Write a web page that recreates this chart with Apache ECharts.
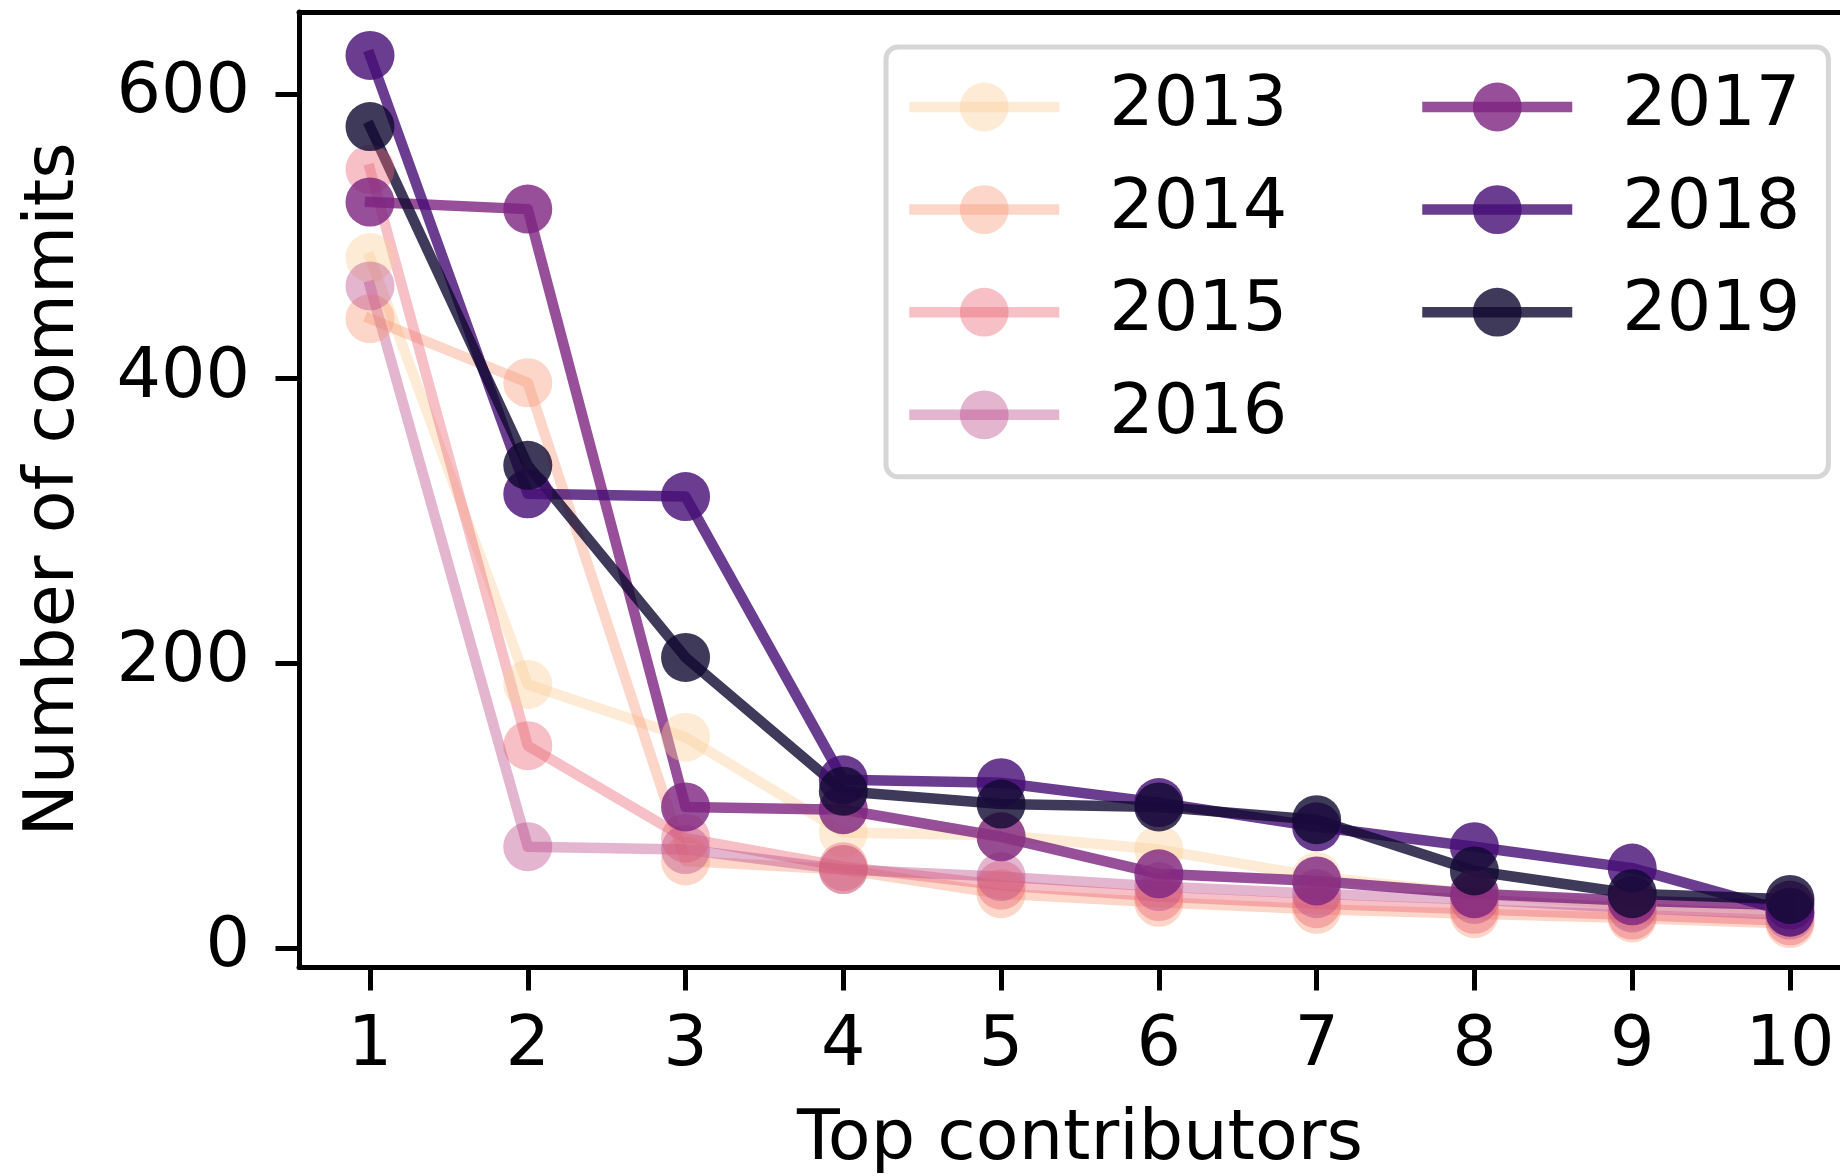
<!DOCTYPE html>
<html>
<head>
<meta charset="utf-8">
<script src="https://cdn.jsdelivr.net/npm/echarts@6/dist/echarts.min.js"></script>
<style>
  html, body { margin: 0; padding: 0; background: #fff; }
  #chart { width: 1840px; height: 1176px; }
</style>
</head>
<body>
<div id="chart"></div>
<script>
// contributor rank (x) and tick labels
const ranks = [1, 2, 3, 4, 5, 6, 7, 8, 9, 10];
const yTicks = [0, 200, 400, 600];

// commits per year
const years = ['2013', '2014', '2015', '2016', '2017', '2018', '2019'];
const c2013 = [485, 185, 148, 81, 79, 69, 50, 38, 30, 26];
const c2014 = [442, 397, 61, 55, 38, 32, 27, 24, 21, 17];
const c2015 = [547, 142, 77, 57, 44, 36, 31, 27, 23, 19];
const c2016 = [465, 71, 69, 55, 50, 43, 38, 34, 28, 23];
const c2017 = [524, 519, 99, 97, 78, 52, 47, 38, 33, 30];
const c2018 = [627, 319, 317, 118, 116, 102, 85, 71, 56, 25];
const c2019 = [577, 339, 204, 110, 101, 99, 90, 54, 38, 34];
const commits = [c2013, c2014, c2015, c2016, c2017, c2018, c2019];

// colours (magma-like) and alpha
const colors = ['#facd96', '#f89876', '#e96270', '#b94687', '#7d237f', '#450d74', '#100931'];
const alphas = [0.4, 0.4, 0.4, 0.4, 0.8, 0.8, 0.8];

const FONT = 'DejaVu Sans';
const FS = 70;

const chart = echarts.init(document.getElementById('chart'));

const series = years.map((y, i) => ({
  name: y,
  type: 'line',
  data: ranks.map((r, j) => [r, commits[i][j]]),
  symbol: 'circle',
  symbolSize: 49,
  lineStyle: { color: colors[i], width: 10.5, opacity: alphas[i], cap: 'square', join: 'round' },
  itemStyle: { color: colors[i], opacity: alphas[i] },
  emphasis: { disabled: true },
  animation: false
}));

const legendBase = {
  orient: 'vertical',
  itemWidth: 150,
  itemHeight: 61,
  itemGap: 32.6,
  selectedMode: false,
  lineStyle: { width: 10.5, cap: 'butt' },
  textStyle: {
    fontFamily: FONT,
    fontSize: FS,
    color: '#000',
    padding: [0, 0, 0, 45]
  }
};

chart.setOption({
  animation: false,
  backgroundColor: '#fff',
  grid: {
    left: 299,
    top: 12,
    right: 0,
    bottom: 209,
    outerBoundsMode: 'none'
  },
  legend: [
    Object.assign({}, legendBase, {
      data: years.slice(0, 4),
      left: 886,
      top: 47,
      padding: [25, 541, 27, 18],
      backgroundColor: '#fff',
      borderColor: '#d6d6d6',
      borderWidth: 5,
      borderRadius: 12
    }),
    Object.assign({}, legendBase, {
      data: years.slice(4),
      left: 1417,
      top: 72,
      padding: 0
    })
  ],
  xAxis: [{
    type: 'value',
    min: 0.55,
    max: 10.317,
    name: 'Top contributors',
    nameLocation: 'middle',
    nameGap: 139,
    nameTextStyle: { fontFamily: FONT, fontSize: FS, color: '#000', padding: [0, 0, 0, 21] },
    splitLine: { show: false },
    axisLine: { show: true, onZero: false, lineStyle: { color: '#000', width: 5 } },
    axisTick: { show: true, length: 23.5, customValues: ranks, lineStyle: { color: '#000', width: 5 } },
    axisLabel: { customValues: ranks, fontFamily: FONT, fontSize: FS, color: '#000', margin: 45 }
  }, {
    // top spine only
    type: 'value',
    position: 'top',
    min: 0.55,
    max: 10.317,
    splitLine: { show: false },
    axisLine: { show: true, onZero: false, lineStyle: { color: '#000', width: 5 } },
    axisTick: { show: false },
    axisLabel: { show: false }
  }],
  yAxis: {
    type: 'value',
    min: -13.5,
    max: 657.5,
    name: 'Number of commits',
    nameLocation: 'middle',
    nameRotate: 90,
    nameGap: 209,
    nameTextStyle: { fontFamily: FONT, fontSize: FS, color: '#000' },
    splitLine: { show: false },
    axisLine: { show: true, onZero: false, lineStyle: { color: '#000', width: 5 } },
    axisTick: { show: true, length: 23.5, customValues: yTicks, lineStyle: { color: '#000', width: 5 } },
    axisLabel: { customValues: yTicks, fontFamily: FONT, fontSize: FS, color: '#000', margin: 49 }
  },
  series: series
});
</script>
</body>
</html>
